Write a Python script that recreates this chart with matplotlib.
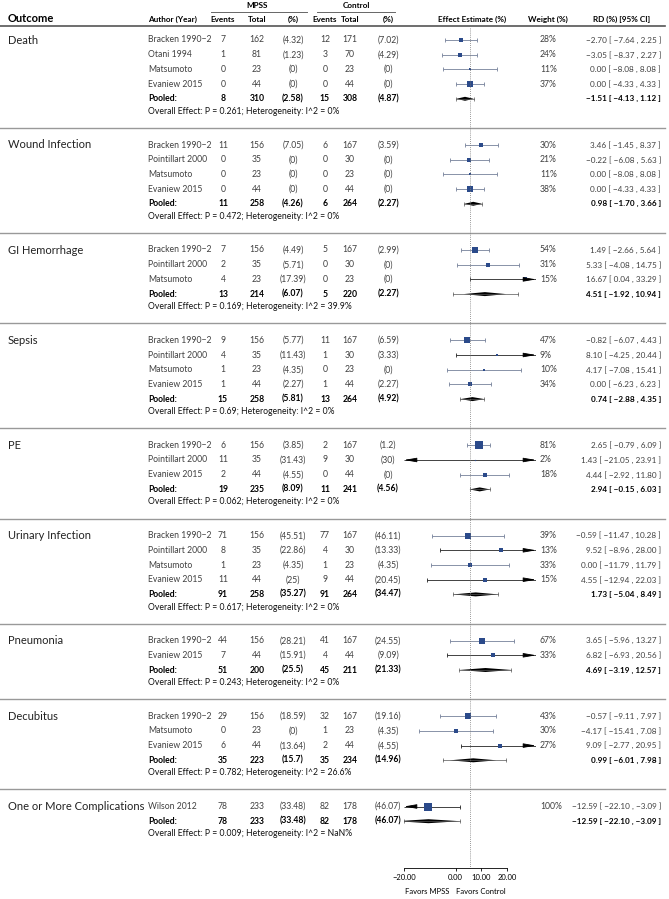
import matplotlib.pyplot as plt

plt.rcParams['font.family'] = ['Lato', 'DejaVu Sans']

# ---- data -------------------------------------------------------------
outcomes = ["Death", "Wound Infection", "GI Hemorrhage", "Sepsis", "PE",
            "Urinary Infection", "Pneumonia", "Decubitus",
            "One or More Complications"]

study_outcome = [0, 0, 0, 0, 1, 1, 1, 1, 2, 2, 2, 3, 3, 3, 3, 4, 4, 4,
                 5, 5, 5, 5, 6, 6, 7, 7, 7, 8]
study_author = ["Bracken 1990\u22122", "Otani 1994", "Matsumoto", "Evaniew 2015",
                "Bracken 1990\u22122", "Pointillart 2000", "Matsumoto", "Evaniew 2015",
                "Bracken 1990\u22122", "Pointillart 2000", "Matsumoto",
                "Bracken 1990\u22122", "Pointillart 2000", "Matsumoto", "Evaniew 2015",
                "Bracken 1990\u22122", "Pointillart 2000", "Evaniew 2015",
                "Bracken 1990\u22122", "Pointillart 2000", "Matsumoto", "Evaniew 2015",
                "Bracken 1990\u22122", "Evaniew 2015",
                "Bracken 1990\u22122", "Matsumoto", "Evaniew 2015",
                "Wilson 2012"]
mpss_events = [7, 1, 0, 0, 11, 0, 0, 0, 7, 2, 4, 9, 4, 1, 1, 6, 11, 2,
               71, 8, 1, 11, 44, 7, 29, 0, 6, 78]
mpss_total = [162, 81, 23, 44, 156, 35, 23, 44, 156, 35, 23, 156, 35, 23, 44,
              156, 35, 44, 156, 35, 23, 44, 156, 44, 156, 23, 44, 233]
mpss_pct = [4.32, 1.23, 0, 0, 7.05, 0, 0, 0, 4.49, 5.71, 17.39, 5.77, 11.43,
            4.35, 2.27, 3.85, 31.43, 4.55, 45.51, 22.86, 4.35, 25, 28.21, 15.91,
            18.59, 0, 13.64, 33.48]
ctrl_events = [12, 3, 0, 0, 6, 0, 0, 0, 5, 0, 0, 11, 1, 0, 1, 2, 9, 0,
               77, 4, 1, 9, 41, 4, 32, 1, 2, 82]
ctrl_total = [171, 70, 23, 44, 167, 30, 23, 44, 167, 30, 23, 167, 30, 23, 44,
              167, 30, 44, 167, 30, 23, 44, 167, 44, 167, 23, 44, 178]
ctrl_pct = [7.02, 4.29, 0, 0, 3.59, 0, 0, 0, 2.99, 0, 0, 6.59, 3.33, 0, 2.27,
            1.2, 30, 0, 46.11, 13.33, 4.35, 20.45, 24.55, 9.09, 19.16, 4.35,
            4.55, 46.07]
weight = [28, 24, 11, 37, 30, 21, 11, 38, 54, 31, 15, 47, 9, 10, 34, 81, 2, 18,
          39, 13, 33, 15, 67, 33, 43, 30, 27, 100]
rd = [-2.70, -3.05, 0.00, 0.00, 3.46, -0.22, 0.00, 0.00, 1.49, 5.33, 16.67,
      -0.82, 8.10, 4.17, 0.00, 2.65, 1.43, 4.44, -0.59, 9.52, 0.00, 4.55,
      3.65, 6.82, -0.57, -4.17, 9.09, -12.59]
rd_lo = [-7.64, -8.37, -8.08, -4.33, -1.45, -6.08, -8.08, -4.33, -2.66, -4.08,
         0.04, -6.07, -4.25, -7.08, -6.23, -0.79, -21.05, -2.92, -11.47, -8.96,
         -11.79, -12.94, -5.96, -6.93, -9.11, -15.41, -2.77, -22.10]
rd_hi = [2.25, 2.27, 8.08, 4.33, 8.37, 5.63, 8.08, 4.33, 5.64, 14.75, 33.29,
         4.43, 20.44, 15.41, 6.23, 6.09, 23.91, 11.80, 10.28, 28.00, 11.79,
         22.03, 13.27, 20.56, 7.97, 7.08, 20.95, -3.09]

pool_mpss_events = [8, 11, 13, 15, 19, 91, 51, 35, 78]
pool_mpss_total = [310, 258, 214, 258, 235, 258, 200, 223, 233]
pool_mpss_pct = [2.58, 4.26, 6.07, 5.81, 8.09, 35.27, 25.5, 15.7, 33.48]
pool_ctrl_events = [15, 6, 5, 13, 11, 91, 45, 35, 82]
pool_ctrl_total = [308, 264, 220, 264, 241, 264, 211, 234, 178]
pool_ctrl_pct = [4.87, 2.27, 2.27, 4.92, 4.56, 34.47, 21.33, 14.96, 46.07]
pool_rd = [-1.51, 0.98, 4.51, 0.74, 2.94, 1.73, 4.69, 0.99, -12.59]
pool_lo = [-4.13, -1.70, -1.92, -2.88, -0.15, -5.04, -3.19, -6.01, -22.10]
pool_hi = [1.12, 3.66, 10.94, 4.35, 6.03, 8.49, 12.57, 7.98, -3.09]
pool_pi_lo = [-4.13, -1.70, -5.1, -2.88, -0.15, -5.04, -3.19, -8.1, -22.10]
pool_pi_hi = [1.12, 3.66, 14.5, 4.35, 6.03, 8.49, 12.57, 10.8, -3.09]
pool_p = ["0.261", "0.472", "0.169", "0.69", "0.062", "0.617", "0.243", "0.782", "0.009"]
pool_i2 = ["0", "0", "39.9", "0", "0", "0", "0", "26.6", "NaN"]

axis_ticks = [-20, 0, 10, 20]


def num(v):
    return f"{v:.2f}".replace('-', '\u2212')


def pct(v):
    return f"({v:g})"


def rd_text(e, lo, hi):
    return f"{num(e)} [ {num(lo)} , {num(hi)} ]"


# ---- figure -----------------------------------------------------------
W, H = 669, 899
fig = plt.figure(figsize=(W / 100, H / 100), dpi=100)
ax = fig.add_axes([0, 0, 1, 1])
ax.set_xlim(0, W)
ax.set_ylim(H, 0)
ax.axis('off')

# forest panel: -20..20 spans px 404..536, zero line at 470
fx = fig.add_axes([404 / W, 0, 132 / W, 1])
fx.set_xlim(-20, 20)
fx.set_ylim(H, 0)
fx.axis('off')

fs = 6.2
hfs = 5.9
grey = '#404040'
sq_col = '#2b4a8a'
ci_col = '#75819a'
cols = [223, 257, 293, 325, 350, 388]

# header
ax.text(257, 6, "MPSS", fontsize=hfs, fontweight='bold', ha='center', va='center')
ax.text(356, 6, "Control", fontsize=hfs, fontweight='bold', ha='center', va='center')
ax.plot([211, 307], [12, 12], color='#666', lw=0.7)
ax.plot([317, 395], [12, 12], color='#666', lw=0.7)
ax.text(8, 19, "Outcome", fontsize=8, fontweight='bold', ha='left', va='center')
ax.text(148, 19, "Author (Year)", fontsize=hfs, fontweight='bold', ha='left', va='center')
for x, t in zip(cols, ["Events", "Total", "(%)"] * 2):
    ax.text(x, 19, t, fontsize=hfs, fontweight='bold', ha='center', va='center')
ax.text(472, 19, "Effect Estimate (%)", fontsize=hfs, fontweight='bold', ha='center', va='center')
ax.text(548, 19, "Weight (%)", fontsize=hfs, fontweight='bold', ha='center', va='center')
ax.text(622, 19, "RD (%) [95% CI]", fontsize=hfs, fontweight='bold', ha='center', va='center')
ax.plot([0, 665], [26, 26], color='#555', lw=1.2)


def ci_line(lo, hi, y):
    a, b = max(lo, -20), min(hi, 20)
    clipped = lo < -20 or hi > 20
    color = '#222' if clipped else ci_col
    fx.plot([a, b], [y, y], color=color, lw=0.6, solid_capstyle='butt')
    for end, cut, d in ((a, lo < -20, -1), (b, hi > 20, 1)):
        if cut:
            fx.annotate('', xy=(end, y), xytext=(end - d * 3, y),
                        arrowprops=dict(arrowstyle='-|>,head_length=0.75,head_width=0.13',
                                        color='black', lw=0.6, shrinkA=0, shrinkB=0),
                        annotation_clip=False)
        else:
            fx.plot([end], [y], marker='|', ms=3, mew=0.6, color=color)


row_gap, pool_gap, sect_gap = 14.7, 12.6, 33.6
y = 40
for k, name in enumerate(outcomes):
    ax.text(8, y, name, fontsize=8, ha='left', va='center', color='#222')
    for i in [j for j, o in enumerate(study_outcome) if o == k]:
        ax.text(148, y, study_author[i], fontsize=fs, ha='left', va='center', color=grey)
        vals = [str(mpss_events[i]), str(mpss_total[i]), pct(mpss_pct[i]),
                str(ctrl_events[i]), str(ctrl_total[i]), pct(ctrl_pct[i])]
        for x, t in zip(cols, vals):
            ax.text(x, y, t, fontsize=fs, ha='center', va='center', color=grey)
        ax.text(540, y, f"{weight[i]}%", fontsize=fs, ha='left', va='center', color=grey)
        ax.text(661, y, rd_text(rd[i], rd_lo[i], rd_hi[i]), fontsize=5.9,
                ha='right', va='center', color=grey)
        ci_line(rd_lo[i], rd_hi[i], y)
        fx.plot(rd[i], y, marker='s', ms=6.0 * (weight[i] / 100) ** 0.5,
                color=sq_col, mew=0)
        y += row_gap
    # pooled row
    ax.text(148, y, "Pooled:", fontsize=fs, fontweight='bold', ha='left', va='center')
    vals = [str(pool_mpss_events[k]), str(pool_mpss_total[k]), pct(pool_mpss_pct[k]),
            str(pool_ctrl_events[k]), str(pool_ctrl_total[k]), pct(pool_ctrl_pct[k])]
    for x, t in zip(cols, vals):
        ax.text(x, y, t, fontsize=fs, fontweight='bold', ha='center', va='center')
    ax.text(661, y, rd_text(pool_rd[k], pool_lo[k], pool_hi[k]), fontsize=5.9,
            fontweight='bold', ha='right', va='center')
    pl, ph = max(pool_pi_lo[k], -20), min(pool_pi_hi[k], 20)
    fx.plot([pl, ph], [y, y], color='#555', lw=0.5)
    fx.plot([pl, ph], [y, y], ls='none', marker='|', ms=3, mew=0.5, color='#555')
    h = 2.0
    fx.fill([pool_lo[k], pool_rd[k], pool_hi[k], pool_rd[k]],
            [y, y - h, y, y + h], color='black', lw=0)
    y += pool_gap
    ax.text(148, y, f"Overall Effect: P = {pool_p[k]}; Heterogeneity: I^2 = {pool_i2[k]}%",
            fontsize=fs, ha='left', va='center', color='#111')
    if k < len(outcomes) - 1:
        ax.plot([0, 665], [y + 16.5, y + 16.5], color='#999', lw=1.0)
    y += sect_gap

axis_y = 868
fx.plot([0, 0], [28, axis_y], ls=(0, (1, 1.5)), lw=0.6, color='#777')

# bottom scale (as drawn in the reference: -20..20 over px 404..507)
bx = fig.add_axes([404 / W, 1 - axis_y / H, 103 / W, 0.0001])
bx.set_xlim(-20, 20)
for s in ['top', 'left', 'right']:
    bx.spines[s].set_visible(False)
bx.spines['bottom'].set_linewidth(0.6)
bx.set_yticks([])
bx.set_xticks(axis_ticks, labels=[num(t) for t in axis_ticks])
bx.tick_params(axis='x', labelsize=5.5, length=2.5, width=0.6, pad=2)
ax.text(449, 891, "Favors MPSS", fontsize=5.5, ha='right', va='center')
ax.text(456, 891, "Favors Control", fontsize=5.5, ha='left', va='center')

fig.savefig('out.png', dpi=100)
